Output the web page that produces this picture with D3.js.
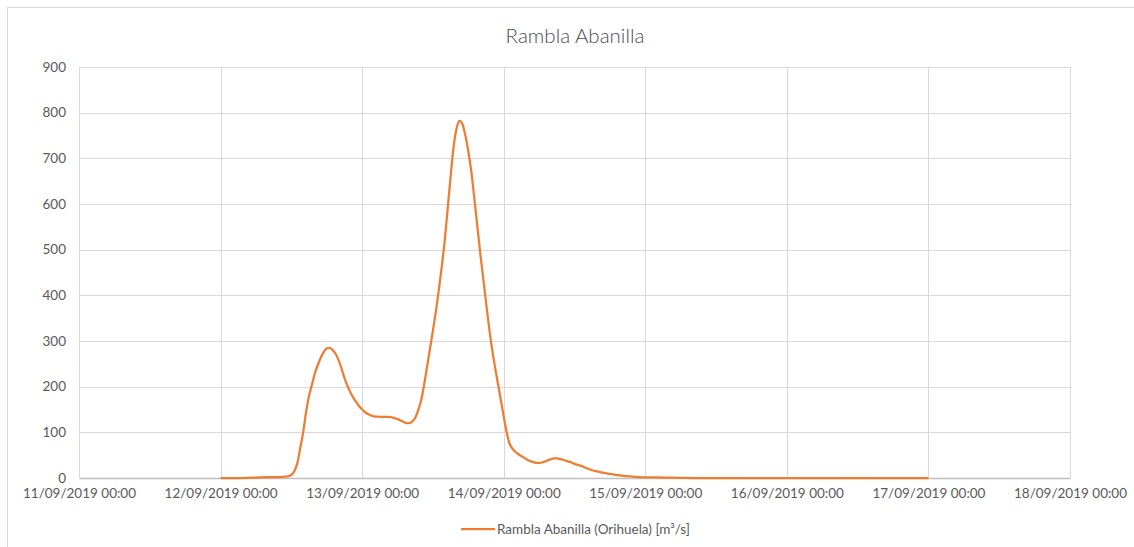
<!DOCTYPE html>
<html>
<head>
<meta charset="utf-8">
<script src="https://cdn.jsdelivr.net/npm/d3@7"></script>
<style>
  html, body { margin: 0; padding: 0; background: #fff; }
  svg { display: block; }
  text { font-family: Lato, "Open Sans", sans-serif; }
</style>
</head>
<body>
<svg id="chart" width="1134" height="547"></svg>
<script>
// ---- data ----
const title = "Rambla Abanilla";
const seriesName = "Rambla Abanilla (Orihuela) [m³/s]";
// hours since 12/09/2019 00:00
const hours = [0, 3, 6, 8, 10, 11, 11.5, 12, 12.5, 13, 13.5, 14, 14.5, 15, 15.5, 16, 16.5, 17, 17.5,
  18, 18.5, 19, 19.5, 20, 20.5, 21, 21.5, 22, 22.5, 23, 23.5, 24, 24.5, 25, 25.5, 26, 26.5,
  27, 27.5, 28, 28.5, 29, 29.5, 30, 30.5, 31, 31.5, 32, 32.5, 33, 33.5, 34, 34.5, 35, 35.5,
  36, 36.5, 37, 37.5, 38, 38.5, 39, 39.5, 40, 40.5, 41, 41.5, 42, 42.5, 43, 43.5, 44, 44.5,
  45, 45.5, 46, 46.5, 47, 47.5, 48, 48.5, 49, 49.5, 50, 50.5, 51, 51.5, 52, 52.5, 53, 53.5,
  54, 54.5, 55, 55.5, 56, 56.5, 57, 57.5, 58, 58.5, 59, 59.5, 60, 61, 62, 63, 64, 65, 66,
  67, 68, 69, 70, 71, 72, 75, 78, 81, 90, 100, 110, 120];
const flow = [0, 0, 1, 2, 2, 3, 4, 7, 15, 32, 65, 100, 145, 180, 205, 230, 248, 264, 276,
  284, 285, 280, 272, 258, 240, 219, 202, 188, 176, 166, 157, 150, 144, 140, 137, 135, 134.5,
  134, 134, 134, 134, 133, 131, 129, 126, 123, 120, 120, 124, 132, 148, 170, 204, 243, 283,
  323, 365, 412, 463, 520, 590, 660, 725, 765, 782, 775, 750, 715, 672, 615, 555, 495, 440,
  385, 332, 285, 245, 208, 172, 135, 100, 75, 64, 57, 52, 48, 44, 40, 37, 35, 33,
  33, 34, 36, 39, 41, 43, 43, 42, 40, 38, 36, 34, 31, 27, 22, 17, 14, 11, 9,
  7, 5, 4, 3, 2, 1.5, 1, 0.5, 0, 0, 0, 0, 0];
const yTicks = [0, 100, 200, 300, 400, 500, 600, 700, 800, 900];
const xStart = new Date(2019, 8, 11, 0, 0);
const xEnd = new Date(2019, 8, 18, 0, 0);
const seriesStart = new Date(2019, 8, 12, 0, 0);

// ---- layout ----
const svg = d3.select("#chart");
const margin = { left: 79, right: 1070, top: 67, bottom: 478 };
const textColor = "#595959";
const lineColor = "#ED7D31";
const fontSize = 13.5;

svg.append("rect").attr("x", 7.5).attr("y", 7.5).attr("width", 1140).attr("height", 560)
  .attr("fill", "#fff").attr("stroke", "#d9d9d9").attr("stroke-width", 1);

const x = d3.scaleTime().domain([xStart, xEnd]).range([margin.left, margin.right]);
const y = d3.scaleLinear().domain([0, 900]).range([margin.bottom, margin.top]);

// title
svg.append("text").attr("x", 575).attr("y", 43).attr("text-anchor", "middle")
  .attr("font-size", 20.5).attr("font-weight", 300).attr("fill", "#4d4d4d").text(title);

// gridlines
const g = svg.append("g");
g.selectAll("line.h").data(yTicks.filter(d => d > 0)).join("line")
  .attr("x1", margin.left).attr("x2", margin.right)
  .attr("y1", d => Math.round(y(d)) + 0.5).attr("y2", d => Math.round(y(d)) + 0.5)
  .attr("stroke", "#d9d9d9").attr("stroke-width", 1);
const dayTicks = d3.timeDay.range(xStart, d3.timeDay.offset(xEnd, 1));
g.selectAll("line.v").data(dayTicks).join("line")
  .attr("x1", d => Math.round(x(d)) + 0.5).attr("x2", d => Math.round(x(d)) + 0.5)
  .attr("y1", margin.top).attr("y2", margin.bottom)
  .attr("stroke", "#d9d9d9").attr("stroke-width", 1);

// y axis labels
const yAxis = d3.axisLeft(y).tickValues(yTicks).tickSize(0).tickPadding(13);
const ya = svg.append("g").attr("transform", `translate(${margin.left},0)`).call(yAxis);
ya.select(".domain").remove();
ya.selectAll("text").attr("font-size", fontSize).attr("fill", textColor)
  .style("font-family", "Lato, 'Open Sans', sans-serif");

// x axis
const fmt = d3.timeFormat("%d/%m/%Y %H:%M");
const xAxis = d3.axisBottom(x).tickValues(dayTicks).tickFormat(fmt).tickSize(0).tickPadding(10);
const xa = svg.append("g").attr("transform", `translate(0,${margin.bottom})`).call(xAxis);
xa.select(".domain").attr("stroke", "#bfbfbf").attr("stroke-width", 1.5);
xa.selectAll("text").attr("font-size", fontSize).attr("fill", textColor)
  .style("font-family", "Lato, 'Open Sans', sans-serif");

// series
const data = hours.map((h, i) => ({ t: new Date(seriesStart.getTime() + h * 3600000), v: flow[i] }));
const line = d3.line().x(d => x(d.t)).y(d => y(d.v)).curve(d3.curveMonotoneX);
svg.append("path").datum(data).attr("d", line).attr("fill", "none")
  .attr("stroke", lineColor).attr("stroke-width", 2.25).attr("stroke-linejoin", "round");

// legend
svg.append("line").attr("x1", 461).attr("x2", 495).attr("y1", 529).attr("y2", 529)
  .attr("stroke", lineColor).attr("stroke-width", 2.25);
svg.append("text").attr("x", 497).attr("y", 534).attr("font-size", fontSize).attr("fill", textColor)
  .text(seriesName);
</script>
</body>
</html>
